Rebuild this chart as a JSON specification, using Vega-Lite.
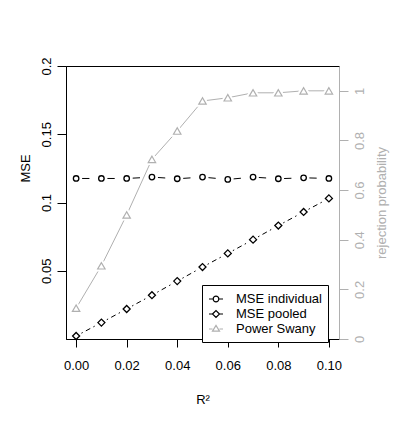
{
  "$schema": "https://vega.github.io/schema/vega-lite/v6.json",
  "width": 273,
  "height": 273,
  "autosize": "none",
  "padding": {"left": 66, "top": 66, "right": 67, "bottom": 84},
  "background": "white",
  "config": {
    "font": "Liberation Sans",
    "view": {"stroke": "black", "strokeWidth": 1},
    "axis": {"grid": false, "labelFontSize": 13, "titleFontSize": 13, "titleFontWeight": "normal", "domainColor": "black", "tickColor": "black", "labelColor": "black", "titleColor": "black", "tickSize": 8, "domainWidth": 1, "tickWidth": 1}
  },
  "data": {"values": [
    {"r2": 0.00, "series": "MSE individual", "value": 0.1176},
    {"r2": 0.01, "series": "MSE individual", "value": 0.1176},
    {"r2": 0.02, "series": "MSE individual", "value": 0.1176},
    {"r2": 0.03, "series": "MSE individual", "value": 0.1186},
    {"r2": 0.04, "series": "MSE individual", "value": 0.1174},
    {"r2": 0.05, "series": "MSE individual", "value": 0.1186},
    {"r2": 0.06, "series": "MSE individual", "value": 0.1169},
    {"r2": 0.07, "series": "MSE individual", "value": 0.1186},
    {"r2": 0.08, "series": "MSE individual", "value": 0.1174},
    {"r2": 0.09, "series": "MSE individual", "value": 0.1181},
    {"r2": 0.10, "series": "MSE individual", "value": 0.1176},
    {"r2": 0.00, "series": "MSE pooled", "value": 0.0022},
    {"r2": 0.01, "series": "MSE pooled", "value": 0.0120},
    {"r2": 0.02, "series": "MSE pooled", "value": 0.0220},
    {"r2": 0.03, "series": "MSE pooled", "value": 0.0321},
    {"r2": 0.04, "series": "MSE pooled", "value": 0.0424},
    {"r2": 0.05, "series": "MSE pooled", "value": 0.0527},
    {"r2": 0.06, "series": "MSE pooled", "value": 0.0627},
    {"r2": 0.07, "series": "MSE pooled", "value": 0.0728},
    {"r2": 0.08, "series": "MSE pooled", "value": 0.0831},
    {"r2": 0.09, "series": "MSE pooled", "value": 0.0931},
    {"r2": 0.10, "series": "MSE pooled", "value": 0.1030},
    {"r2": 0.00, "series": "Power Swany", "value": 0.124},
    {"r2": 0.01, "series": "Power Swany", "value": 0.295},
    {"r2": 0.02, "series": "Power Swany", "value": 0.500},
    {"r2": 0.03, "series": "Power Swany", "value": 0.724},
    {"r2": 0.04, "series": "Power Swany", "value": 0.838},
    {"r2": 0.05, "series": "Power Swany", "value": 0.959},
    {"r2": 0.06, "series": "Power Swany", "value": 0.972},
    {"r2": 0.07, "series": "Power Swany", "value": 0.992},
    {"r2": 0.08, "series": "Power Swany", "value": 0.992},
    {"r2": 0.09, "series": "Power Swany", "value": 1.0},
    {"r2": 0.10, "series": "Power Swany", "value": 1.0}
  ]},
  "encoding": {
    "x": {"field": "r2", "type": "quantitative",
      "scale": {"domain": [-0.004, 0.104], "nice": false, "zero": false},
      "axis": {"values": [0, 0.02, 0.04, 0.06, 0.08, 0.1], "format": ".2f", "title": "R²", "labelPadding": 12, "titlePadding": 21, "labelFlush": false}}
  },
  "layer": [
    {
      "encoding": {
        "y": {"field": "value", "type": "quantitative",
          "scale": {"domain": [0, 0.2], "nice": false, "zero": false},
          "axis": {"orient": "left", "values": [0.05, 0.1, 0.15, 0.2], "format": "~g", "labelAngle": 270, "labelAlign": "center", "labelBaseline": "bottom", "labelPadding": 4, "tickSize": 9, "title": "MSE", "titlePadding": 8, "titleY": 102, "labelFlush": false}}
      },
      "layer": [
        {
          "transform": [{"filter": "datum.series === 'MSE individual'"}],
          "mark": {"type": "line", "color": "black", "strokeWidth": 1, "strokeDash": [7.3, 18], "strokeDashOffset": 19.3}
        },
        {
          "transform": [{"filter": "datum.series === 'MSE pooled'"}],
          "mark": {"type": "line", "color": "black", "strokeWidth": 1, "strokeDash": [1.5, 3.5, 5, 3.5, 1.5, 13.75], "strokeDashOffset": 22.75}
        },
        {
          "transform": [{"filter": "datum.series === 'MSE individual'"}],
          "mark": {"type": "point", "shape": "circle", "size": 30, "color": "black", "filled": false, "strokeWidth": 1.3, "opacity": 1}
        },
        {
          "transform": [{"filter": "datum.series === 'MSE pooled'"}],
          "mark": {"type": "point", "shape": "diamond", "size": 49, "color": "black", "filled": false, "strokeWidth": 1.3, "opacity": 1}
        }
      ]
    },
    {
      "encoding": {
        "y": {"field": "value", "type": "quantitative",
          "scale": {"domain": [0, 1.1], "nice": false, "zero": false},
          "axis": {"orient": "right", "values": [0, 0.2, 0.4, 0.6, 0.8, 1], "format": "~g", "labelAngle": 270, "labelAlign": "center", "labelBaseline": "top", "labelPadding": 5, "tickSize": 9, "title": "rejection probability", "titleAngle": 270, "titleBaseline": "top", "titlePadding": 9, "domainColor": "#b0b0b0", "tickColor": "#b0b0b0", "labelColor": "#b0b0b0", "titleColor": "#b0b0b0", "labelFlush": false}}
      },
      "layer": [
        {
          "transform": [{"filter": "datum.series === 'Power Swany'"}],
          "mark": {"type": "line", "color": "#b0b0b0", "strokeWidth": 1}
        },
        {
          "transform": [{"filter": "datum.series === 'Power Swany'"}],
          "mark": {"type": "point", "shape": "triangle-up", "size": 55, "fill": "white", "stroke": "white", "strokeWidth": 5, "filled": true, "opacity": 1}
        },
        {
          "transform": [{"filter": "datum.series === 'Power Swany'"}],
          "mark": {"type": "point", "shape": "triangle-up", "size": 55, "fill": "white", "stroke": "#b0b0b0", "strokeWidth": 1.2, "filled": true, "opacity": 1}
        },
        {
          "mark": {"type": "point", "opacity": 0, "filled": false, "strokeWidth": 1.2},
          "encoding": {
            "y": {"value": 0},
            "color": {"field": "series", "type": "nominal",
              "scale": {"domain": ["MSE individual", "MSE pooled", "Power Swany"], "range": ["black", "black", "#b0b0b0"]},
              "legend": {"orient": "none", "legendX": 136, "legendY": 219, "title": null, "strokeColor": "black", "fillColor": "white", "padding": 6, "labelFontSize": 13, "labelColor": "black", "symbolSize": 196, "symbolStrokeWidth": 1.2, "rowPadding": 0, "labelOffset": 12, "symbolOpacity": 1}},
            "shape": {"field": "series", "type": "nominal",
              "scale": {"domain": ["MSE individual", "MSE pooled", "Power Swany"], "range": ["M-1,0H-0.4M0.4,0H1M-0.4,0A0.4,0.4,0,1,1,0.4,0A0.4,0.4,0,1,1,-0.4,0", "M-1,0H-0.5M0.5,0H1M-0.5,0L0,-0.5L0.5,0L0,0.5Z", "M-1,0H-0.5M0.5,0H1M-0.5,0.3L0,-0.5L0.5,0.3Z"]},
              "legend": {"orient": "none", "legendX": 136, "legendY": 219, "title": null, "strokeColor": "black", "fillColor": "white", "padding": 6, "labelFontSize": 13, "labelColor": "black", "symbolSize": 196, "symbolStrokeWidth": 1.2, "rowPadding": 0, "labelOffset": 12, "symbolOpacity": 1}}
          }
        }
      ]
    }
  ],
  "resolve": {"scale": {"y": "independent"}}
}
